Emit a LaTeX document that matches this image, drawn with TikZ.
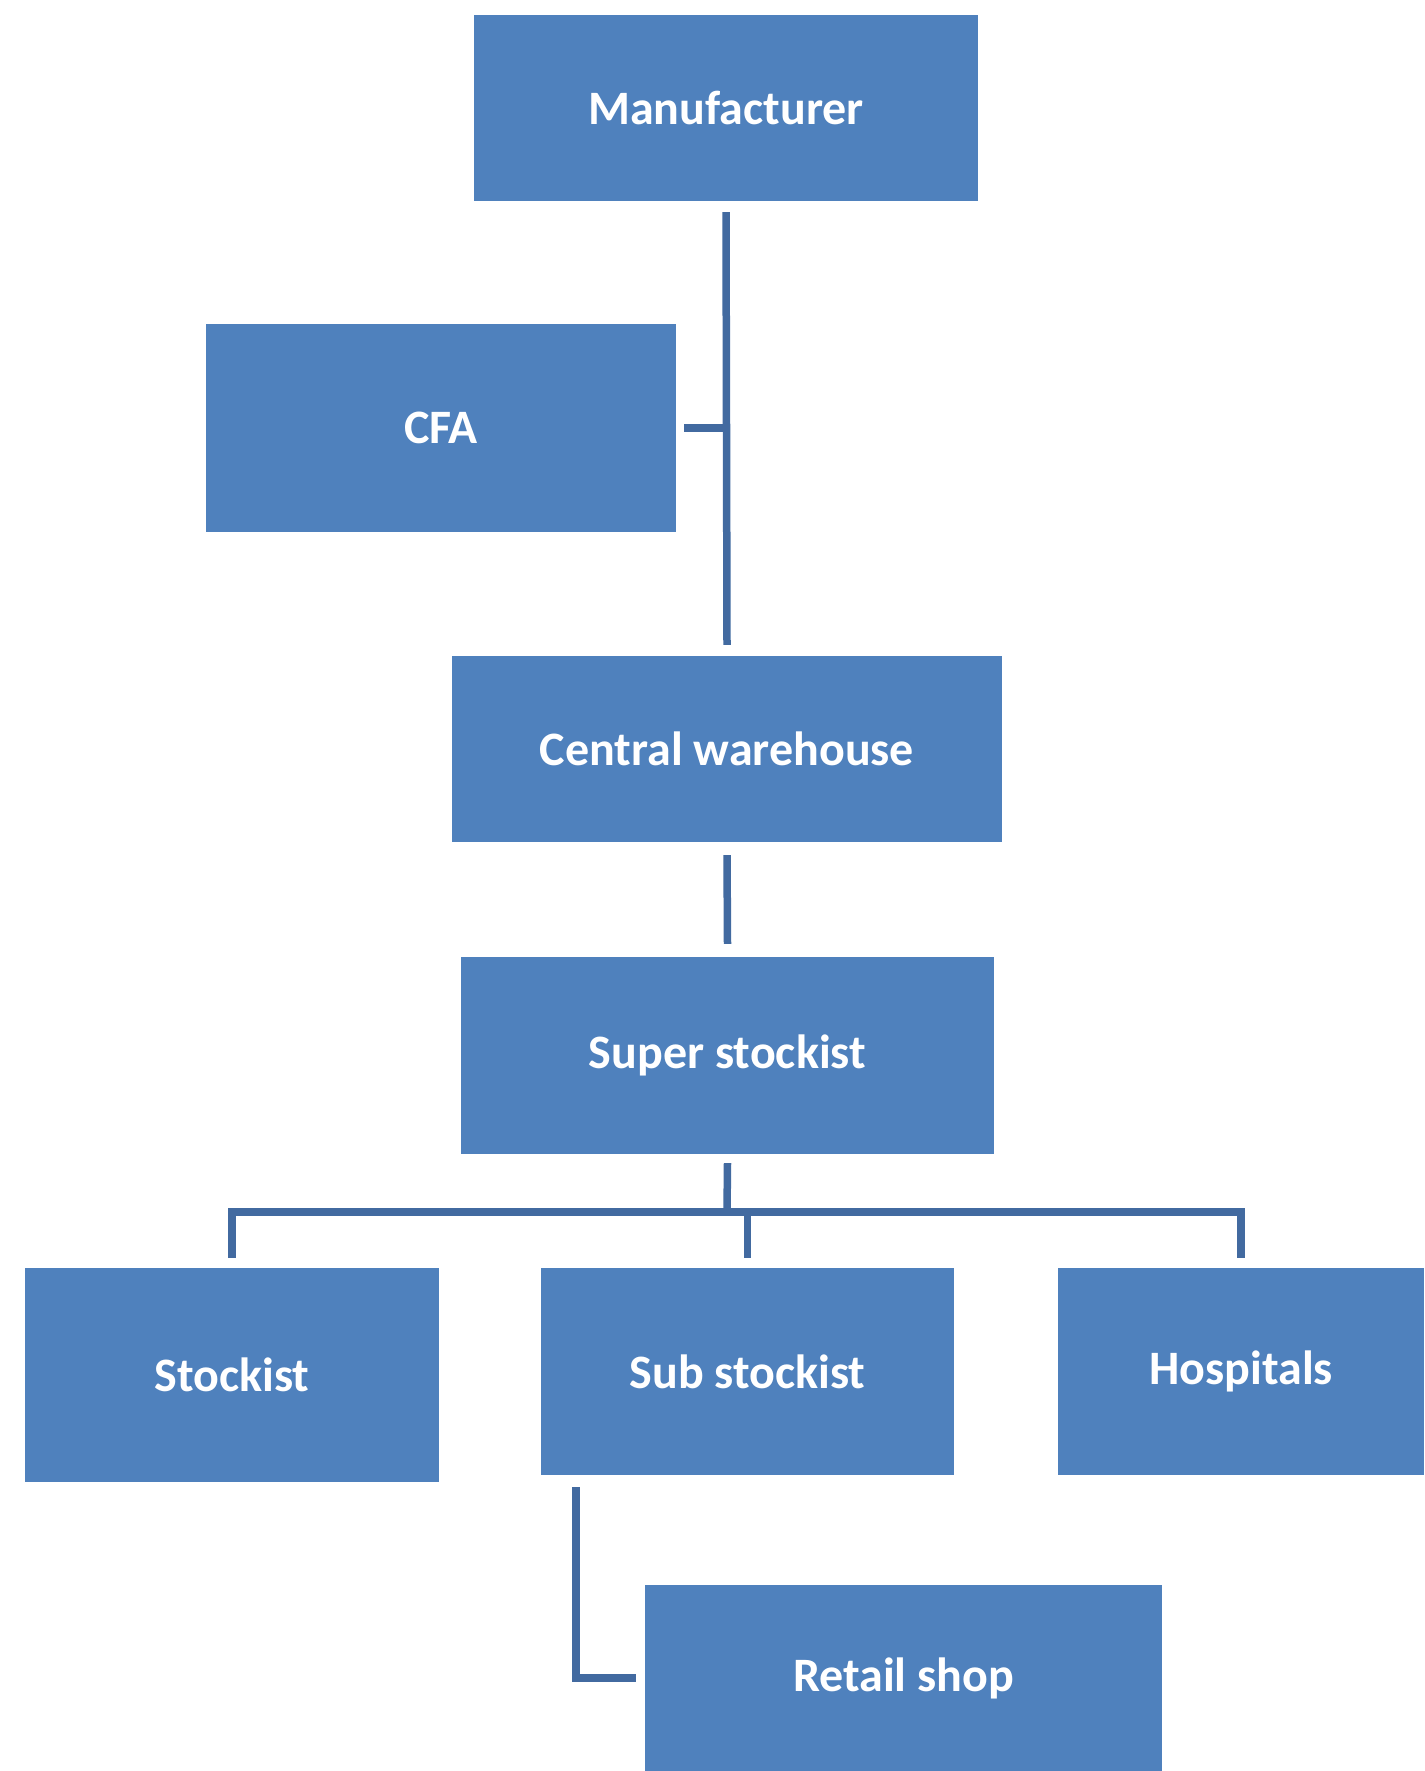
\documentclass[tikz,border=0pt]{standalone}
\usepackage{fontspec}
\setmainfont{Carlito}
\definecolor{boxblue}{RGB}{79,129,189}
\definecolor{lineblue}{RGB}{66,106,160}
\begin{document}
\begin{tikzpicture}[x=1pt,y=-1pt,
  box/.style={rectangle, fill=boxblue, inner sep=0pt, text=white,
    font=\fontsize{48}{56}\selectfont\bfseries},
  conn/.style={draw=lineblue, line width=7.5pt}]
\useasboundingbox[fill=white] (0,0) rectangle (1424,1771);
\node[box, minimum width=504, minimum height=186] (m) at (726,108) {Manufacturer};
\node[box, minimum width=470, minimum height=208] (cfa) at (441,428) {CFA};
\node[box, minimum width=550, minimum height=186] (cw) at (727,749) {Central warehouse};
\node[box, minimum width=533, minimum height=197] (ss) at (727.5,1055.5) {Super stockist};
\node[box, minimum width=414, minimum height=214] (st) at (232,1375) {Stockist};
\node[box, minimum width=413, minimum height=207] (sub) at (747.5,1371.5) {Sub stockist};
\node[box, minimum width=366, minimum height=207] (hos) at (1241,1371.5) {Hospitals};
\node[box, minimum width=517, minimum height=186] (rs) at (903.5,1678) {Retail shop};
% Manufacturer to Central warehouse
\draw[conn] ([yshift=-11pt]m.south) -- ([yshift=11pt]cw.north);
% CFA stub
\draw[conn] ([xshift=8pt]cfa.east) -- (cfa.east -| m.south);
% Central warehouse to Super stockist
\draw[conn] ([yshift=-13pt]cw.south) -- ([yshift=13pt]ss.north);
% bus
\coordinate (bus) at (727,1212);
\draw[conn] ([yshift=-9pt]ss.south) -- (bus);
\draw[conn] ([yshift=10pt]st.north) |- (bus) -| ([yshift=10pt]hos.north);
\draw[conn] ([yshift=10pt]sub.north) -- (sub.north |- bus);
% Sub stockist to Retail shop
\coordinate (rtop) at (576,1487);
\draw[conn] (rtop) |- ([xshift=-9pt]rs.west);
\end{tikzpicture}
\end{document}
